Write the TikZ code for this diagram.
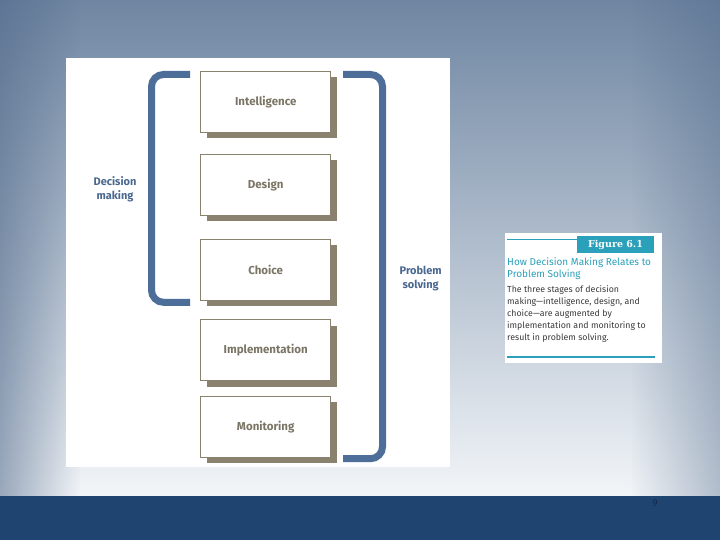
\documentclass[tikz,border=0pt]{standalone}
\usepackage{fontspec}
\usepackage{xcolor}
\usetikzlibrary{shadows,fadings}
\newfontfamily\figfont[Ligatures=TeX]{Fira Sans}
\newfontfamily\slabfont{DejaVu Serif}
\definecolor{bgtop}{HTML}{6F86A2}
\definecolor{bgmid}{HTML}{B9C6D4}
\definecolor{bglow}{HTML}{F2F5F8}
\definecolor{bgedge}{HTML}{50698A}
\definecolor{band}{HTML}{1F4470}
\definecolor{pagenum}{HTML}{14284A}
\definecolor{bracketblue}{HTML}{4E6E9A}
\definecolor{labelblue}{HTML}{4A6890}
\definecolor{boxedge}{HTML}{8A826F}
\definecolor{boxtext}{HTML}{7B7565}
\definecolor{capteal}{HTML}{2BA0BA}
\definecolor{captext}{HTML}{3A3A3A}
\tikzset{
  stagebox/.style={draw=boxedge, line width=1.2pt, fill=white,
    minimum width=130pt, minimum height=61pt,
    drop shadow={shadow xshift=6pt, shadow yshift=-6pt, fill=boxedge, opacity=1},
    font=\figfont\fontsize{11.5}{13}\selectfont\bfseries, text=boxtext},
  sidelabel/.style={align=center, text=labelblue,
    font=\figfont\fontsize{11}{14}\selectfont\bfseries},
  bracket/.style={bracketblue, line width=7pt, rounded corners=12pt}
}
\begin{document}
\begin{tikzpicture}[x=1pt, y=-1pt]
\useasboundingbox (0,0) rectangle (720,540);
\fill[top color=bgtop, middle color=bgmid, bottom color=bglow] (0,0) rectangle (720,496);
\fill[bgedge, opacity=.55, path fading=east] (0,0) rectangle (80,496);
\fill[bgedge, opacity=.4, path fading=west] (630,0) rectangle (720,496);
\fill[band] (0,496) rectangle (720,540);
\node[text=pagenum, font=\figfont\fontsize{10}{11}\selectfont] (page) at (655,503.5) {9};

\fill[white] (66,58) rectangle (450,467);

\foreach \name/\y/\txt in {intel/101.7/Intelligence, design/184.7/Design,
    choice/269.7/Choice, impl/350.3/Implementation, monit/426.7/Monitoring}{
    \node[stagebox] (\name) at (265.7,\y) {\txt};
}

\coordinate (L1) at (190,74.5);
\coordinate (L2) at (151.5,74.5);
\coordinate (L3) at (151.5,302.3);
\coordinate (L4) at (190,302.3);
\draw[bracket] (L1) -- (L2) -- (L3) -- (L4);
\coordinate (R1) at (343,74.5);
\coordinate (R2) at (382.5,74.5);
\coordinate (R3) at (382.5,458.7);
\coordinate (R4) at (343,458.7);
\draw[bracket] (R1) -- (R2) -- (R3) -- (R4);

\node[sidelabel] (decision) at (115,189) {Decision\\making};
\node[sidelabel] (problem) at (420.7,279) {Problem\\solving};

\fill[white] (505,233) rectangle (662,363);
\coordinate (T1) at (507,239.5);
\coordinate (T2) at (578,239.5);
\draw[capteal, line width=1.2pt] (T1) -- (T2);
\node[fill=capteal, text=white, minimum width=77pt, minimum height=17pt, inner sep=0pt,
  font=\slabfont\fontsize{9.5}{10}\selectfont\bfseries] (fig) at (615.5,244.5) {Figure 6.1};
\node[anchor=north west, inner sep=0pt, align=left, text=capteal,
  font=\figfont\fontsize{10}{12}\selectfont] (title) at (507,257.5)
  {How Decision Making Relates to\\Problem Solving};
\node[anchor=north west, inner sep=0pt, align=left, text=captext,
  font=\figfont\fontsize{8.8}{12}\selectfont] (body) at (507,285)
  {The three stages of decision\\making—intelligence, design, and\\choice—are augmented by\\implementation and monitoring to\\result in problem solving.};
\coordinate (B1) at (507,357);
\coordinate (B2) at (655,357);
\draw[capteal, line width=1.2pt] (B1) -- (B2);
\end{tikzpicture}
\end{document}
